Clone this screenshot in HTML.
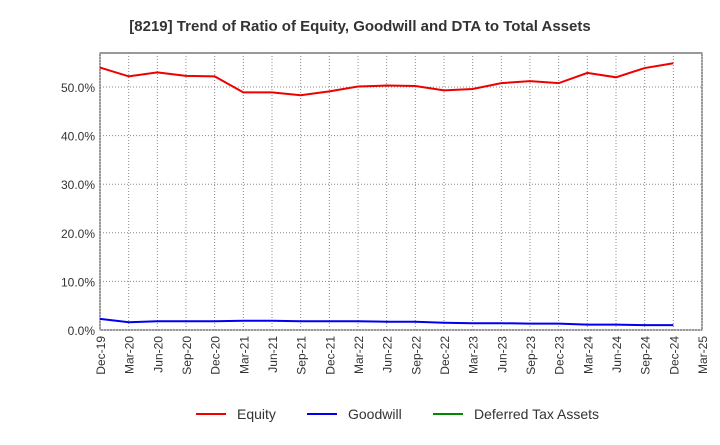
<!DOCTYPE html>
<html><head><meta charset="utf-8"><style>
body{margin:0;background:#fff;font-family:"Liberation Sans",Arial,sans-serif;}
svg text{font-family:"Liberation Sans",Arial,sans-serif;}
</style></head><body>
<svg id="c" width="720" height="440">
<text x="360" y="31" text-anchor="middle" font-size="15" font-weight="bold" fill="#333">[8219]  Trend of Ratio of Equity, Goodwill and DTA to Total Assets</text>
<rect x="100" y="53" width="602" height="277" fill="#fff" stroke="#333" stroke-width="1"/>
<g id="grid"></g><g id="series"></g><g id="axes"></g>
<g>
<g><line x1="196" y1="414" x2="226" y2="414" stroke="#e00" stroke-width="2"/><text x="237" y="419" font-size="14" fill="#333">Equity</text></g>
<g><line x1="307" y1="414" x2="337" y2="414" stroke="#00e" stroke-width="2"/><text x="348" y="419" font-size="14" fill="#333">Goodwill</text></g>
<g><line x1="433" y1="414" x2="463" y2="414" stroke="#080" stroke-width="2"/><text x="474" y="419" font-size="14" fill="#333">Deferred Tax Assets</text></g>
</g>
</svg>
<script>
const categories=["Dec-19","Mar-20","Jun-20","Sep-20","Dec-20","Mar-21","Jun-21","Sep-21","Dec-21","Mar-22","Jun-22","Sep-22","Dec-22","Mar-23","Jun-23","Sep-23","Dec-23","Mar-24","Jun-24","Sep-24","Dec-24","Mar-25"];
const equity=[54.0,52.2,53.0,52.3,52.2,48.9,48.9,48.3,49.1,50.1,50.3,50.2,49.3,49.6,50.8,51.2,50.8,52.9,52.0,53.9,54.9];
const goodwill=[2.3,1.6,1.8,1.8,1.8,1.9,1.9,1.8,1.8,1.8,1.7,1.7,1.5,1.4,1.4,1.3,1.3,1.1,1.1,1.0,1.0];
const yTicks=[0,10,20,30,40,50];
const X0=100,X1=702,Y0=330,Y1=53,YMAX=57;
const x=i=>X0+i*(X1-X0)/(categories.length-1);
const y=v=>Y0-v*(Y0-Y1)/YMAX;
const NS="http://www.w3.org/2000/svg";
function mk(t,a,p){const e=document.createElementNS(NS,t);for(const k in a)e.setAttribute(k,a[k]);p.appendChild(e);return e;}
const grid=document.getElementById('grid'),axes=document.getElementById('axes'),ser=document.getElementById('series');
categories.forEach((c,i)=>{
 const l=mk('line',{x1:x(i),x2:x(i),y1:Y1,y2:Y0,stroke:'#888','stroke-dasharray':'1,2','stroke-width':1},grid);
 
 
 const t=mk('text',{x:x(i)+5,y:Y0+6,'font-size':12,fill:'#333','text-anchor':'end',transform:`rotate(-90 ${x(i)+5} ${Y0+6})`},axes);
 t.textContent=c;
 
 
});
yTicks.forEach(v=>{
 const l=mk('line',{x1:X0,x2:X1,y1:y(v),y2:y(v),stroke:'#888','stroke-dasharray':'1,2','stroke-width':1},grid);
 
 
 const t=mk('text',{x:X0-5,y:y(v)+5,'font-size':12,fill:'#333','text-anchor':'end'},axes);
 t.textContent=v.toFixed(1)+'%';
 
 
});
function line(data,color,name){
 const p=mk('polyline',{points:data.map((v,i)=>x(i)+','+y(v)).join(' '),fill:'none',stroke:color,'stroke-width':2},ser);
 
 
}
line(equity,'#e00','equity-line');
line(goodwill,'#00e','goodwill-line');
</script>
</body></html>
